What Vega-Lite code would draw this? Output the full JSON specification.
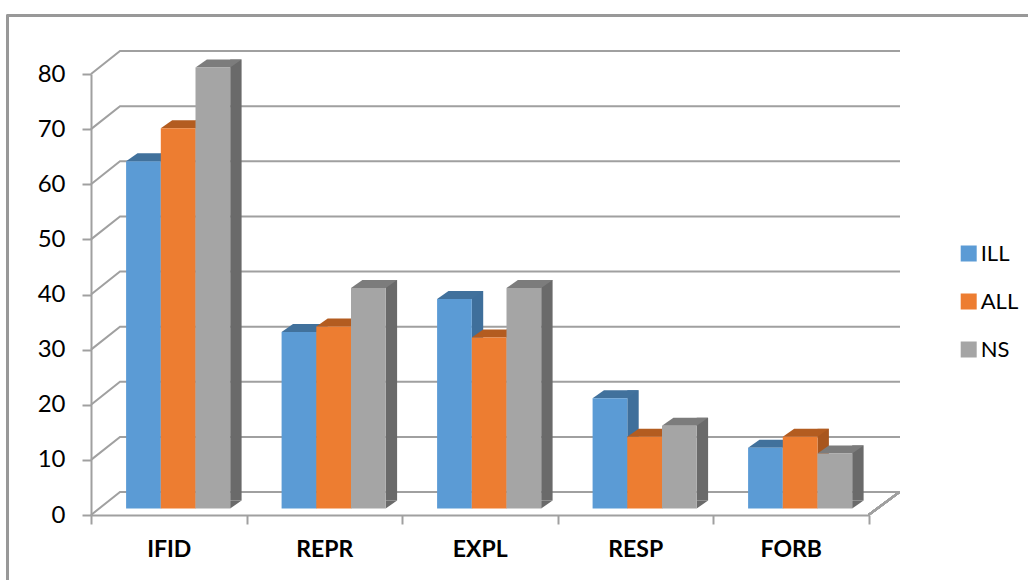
{"$schema":"https://vega.github.io/schema/vega-lite/v6.json","width":777.5,"height":441,"autosize":{"type":"none"},"padding":{"left":91,"top":74,"right":159.5,"bottom":65},"background":"white","config":{"view":{"stroke":null},"font":"Lato"},
"datasets":{"bars":[
{"cat":"IFID","series":"ILL","value":63},{"cat":"IFID","series":"ALL","value":69},{"cat":"IFID","series":"NS","value":80},
{"cat":"REPR","series":"ILL","value":32},{"cat":"REPR","series":"ALL","value":33},{"cat":"REPR","series":"NS","value":40},
{"cat":"EXPL","series":"ILL","value":38},{"cat":"EXPL","series":"ALL","value":31},{"cat":"EXPL","series":"NS","value":40},
{"cat":"RESP","series":"ILL","value":20},{"cat":"RESP","series":"ALL","value":13},{"cat":"RESP","series":"NS","value":15},
{"cat":"FORB","series":"ILL","value":11},{"cat":"FORB","series":"ALL","value":13},{"cat":"FORB","series":"NS","value":10}],
"grid":[{"v":0},{"v":10},{"v":20},{"v":30},{"v":40},{"v":50},{"v":60},{"v":70},{"v":80}]},
"data":{"name":"bars"},
"encoding":{"x":{"field":"cat","type":"nominal","sort":["IFID","REPR","EXPL","RESP","FORB"],"scale":{"domain":["IFID","REPR","EXPL","RESP","FORB"],"paddingInner":0,"paddingOuter":0},"axis":{"title":null,"labelAngle":0,"tickBand":"extent","tickSize":9,"tickColor":"#a0a0a0","tickWidth":2,"domainColor":"#a0a0a0","domainWidth":2,"labelFont":"Lato","labelFontWeight":"bold","labelFontSize":23,"labelColor":"#000000","labelPadding":14}},
"y":{"field":"value","type":"quantitative","scale":{"domain":[0,80],"nice":false,"zero":false},"axis":{"title":null,"grid":false,"values":[0,10,20,30,40,50,60,70,80],"tickSize":9,"tickColor":"#a0a0a0","tickWidth":2,"domainColor":"#a0a0a0","domainWidth":2,"labelFont":"Lato","labelFontSize":24,"labelColor":"#000000","labelPadding":17}}},
"layer":[
{"mark":{"type":"point","shape":"M1028,0L0,0L0,572","size":4,"filled":false,"stroke":"#999999","strokeWidth":1.5,"opacity":1,"xOffset":-83.5},"encoding":{"x":{"datum":"IFID","bandPosition":0},"y":{"datum":90.6}}},
{"data":{"name":"grid"},"mark":{"type":"point","shape":"M0,0L29,-23L809,-23","size":4,"filled":false,"stroke":"#a0a0a0","strokeWidth":2,"opacity":1},"encoding":{"x":{"datum":"IFID","bandPosition":0},"y":{"field":"v","type":"quantitative"}}},
{"mark":{"type":"point","shape":"M0,0L31,-23","size":4,"filled":false,"stroke":"#a0a0a0","strokeWidth":2,"opacity":1},"encoding":{"x":{"datum":"FORB","bandPosition":1},"y":{"datum":0}}},

{"transform":[{"filter":"datum.series==='ILL'"}],"mark":{"type":"bar","width":11.4,"color":"#3f6f9b","xOffset":-2.25,"yOffset":-14.5,"y2Offset":-14.5},"encoding":{"y2":{"datum":0}}},
{"transform":[{"filter":"datum.series==='ILL'"}],"mark":{"type":"point","shape":"M0,0L11.4,-8L0,-8Z","size":4,"filled":true,"strokeWidth":0,"opacity":1,"color":"#3f6f9b","xOffset":-7.95,"yOffset":-6.5},"encoding":{"y":{"datum":0}}},
{"transform":[{"filter":"datum.series==='ILL'"}],"mark":{"type":"point","shape":"M0,0L11.4,-8L46.1,-8L34.7,0Z","size":4,"filled":true,"strokeWidth":0,"opacity":1,"color":"#41719c","xOffset":-42.65,"yOffset":-6.5}},
{"transform":[{"filter":"datum.series==='ILL'"}],"mark":{"type":"bar","width":34.7,"xOffset":-25.3,"yOffset":-6.5,"y2Offset":-6.5},"encoding":{"y2":{"datum":0},"color":{"field":"series","type":"nominal","scale":{"domain":["ILL","ALL","NS"],"range":["#5b9bd5","#ed7d31","#a5a5a5"]},"legend":{"orient":"none","legendX":866.7,"legendY":168.5,"title":null,"symbolType":"square","symbolSize":256,"symbolStrokeWidth":0,"labelFont":"Lato","labelFontSize":22,"labelColor":"#000000","labelOffset":1,"rowPadding":26}}}},

{"transform":[{"filter":"datum.series==='ALL'"}],"mark":{"type":"bar","width":11.4,"color":"#a8561e","xOffset":32.45,"yOffset":-14.5,"y2Offset":-14.5},"encoding":{"y2":{"datum":0}}},
{"transform":[{"filter":"datum.series==='ALL'"}],"mark":{"type":"point","shape":"M0,0L11.4,-8L0,-8Z","size":4,"filled":true,"strokeWidth":0,"opacity":1,"color":"#a8561e","xOffset":26.75,"yOffset":-6.5},"encoding":{"y":{"datum":0}}},
{"transform":[{"filter":"datum.series==='ALL'"}],"mark":{"type":"point","shape":"M0,0L11.4,-8L46.1,-8L34.7,0Z","size":4,"filled":true,"strokeWidth":0,"opacity":1,"color":"#b35c20","xOffset":-7.95,"yOffset":-6.5}},
{"transform":[{"filter":"datum.series==='ALL'"}],"mark":{"type":"bar","width":34.7,"xOffset":9.4,"yOffset":-6.5,"y2Offset":-6.5},"encoding":{"y2":{"datum":0},"color":{"field":"series","type":"nominal"}}},

{"transform":[{"filter":"datum.series==='NS'"}],"mark":{"type":"bar","width":11.4,"color":"#6a6a6a","xOffset":67.15,"yOffset":-14.5,"y2Offset":-14.5},"encoding":{"y2":{"datum":0}}},
{"transform":[{"filter":"datum.series==='NS'"}],"mark":{"type":"point","shape":"M0,0L11.4,-8L0,-8Z","size":4,"filled":true,"strokeWidth":0,"opacity":1,"color":"#6a6a6a","xOffset":61.45,"yOffset":-6.5},"encoding":{"y":{"datum":0}}},
{"transform":[{"filter":"datum.series==='NS'"}],"mark":{"type":"point","shape":"M0,0L11.4,-8L46.1,-8L34.7,0Z","size":4,"filled":true,"strokeWidth":0,"opacity":1,"color":"#7c7c7c","xOffset":26.75,"yOffset":-6.5}},
{"transform":[{"filter":"datum.series==='NS'"}],"mark":{"type":"bar","width":34.7,"xOffset":44.1,"yOffset":-6.5,"y2Offset":-6.5},"encoding":{"y2":{"datum":0},"color":{"field":"series","type":"nominal"}}}
]}
